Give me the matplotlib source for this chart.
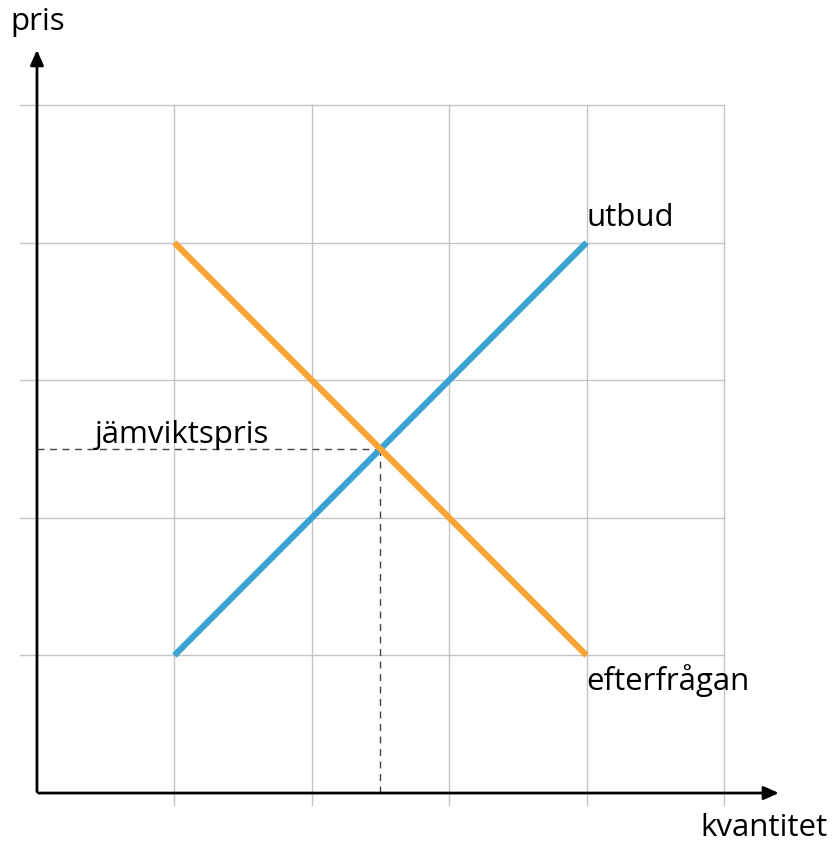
import matplotlib.pyplot as plt

plt.rcParams['font.family'] = ['Open Sans', 'DejaVu Sans']

# supply and demand (quantity, price)
utbud_x = [1, 4]
utbud_y = [1, 4]
efterfragan_x = [1, 4]
efterfragan_y = [4, 1]
jamvikt = (2.5, 2.5)
grid_pos = [1, 2, 3, 4, 5]

fig = plt.figure(figsize=(8.32, 8.43), dpi=100)
ax = fig.add_axes([0, 0, 1, 1])
ax.set_xlim(-0.269, 5.786)
ax.set_ylim(-0.363, 5.763)
ax.axis('off')

# grid
for g in grid_pos:
    ax.plot([g, g], [-0.09, 5], color='#c4c4c4', lw=1, zorder=1)
    ax.plot([-0.12, 5], [g, g], color='#c4c4c4', lw=1, zorder=1)

# axes with arrows
ax.annotate('', xy=(0, 5.42), xytext=(0, -0.01),
            arrowprops=dict(arrowstyle='-|>,head_length=0.9,head_width=0.4', color='black', lw=2), zorder=3)
ax.annotate('', xy=(5.42, 0), xytext=(-0.01, 0),
            arrowprops=dict(arrowstyle='-|>,head_length=0.9,head_width=0.4', color='black', lw=2), zorder=3)

# equilibrium dashed lines
ax.plot([0, jamvikt[0]], [jamvikt[1], jamvikt[1]], color='#444444', lw=1, ls=(0, (5, 4)), zorder=2)
ax.plot([jamvikt[0], jamvikt[0]], [0, jamvikt[1]], color='#444444', lw=1, ls=(0, (5, 4)), zorder=2)

ax.plot(utbud_x, utbud_y, color='#3ba3d2', lw=4.5, solid_capstyle='butt', zorder=4)
ax.plot(efterfragan_x, efterfragan_y, color='#f8a535', lw=4.5, solid_capstyle='butt', zorder=5)

fs = 22.5
ax.text(-0.19, 5.6, 'pris', fontsize=fs, va='center', ha='left')
ax.text(5.755, -0.255, 'kvantitet', fontsize=fs, va='center', ha='right')
ax.text(4.0, 4.18, 'utbud', fontsize=fs, va='center', ha='left')
ax.text(4.0, 0.82, 'efterfrågan', fontsize=fs, va='center', ha='left')
ax.text(0.42, 2.6, 'jämviktspris', fontsize=fs, va='center', ha='left')

fig.savefig('out.png', dpi=100)
